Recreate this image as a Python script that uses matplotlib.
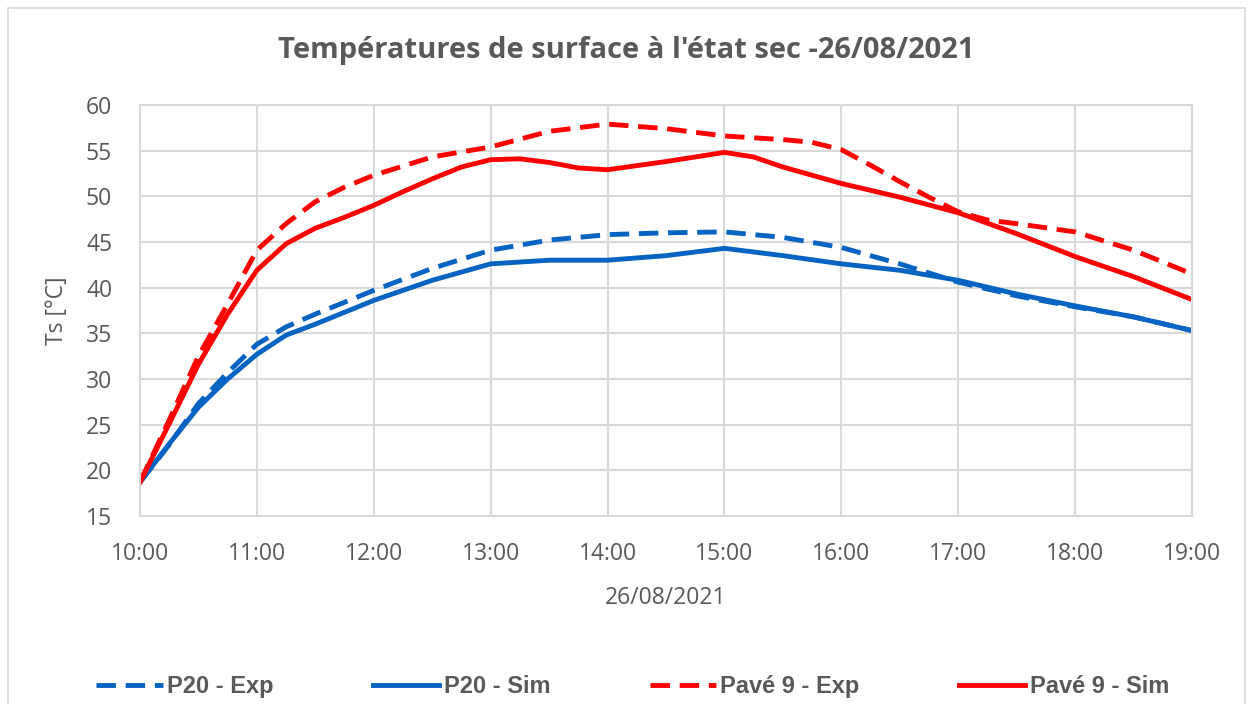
import numpy as np
import matplotlib.pyplot as plt
from matplotlib.patches import Rectangle

plt.rcParams['font.family'] = ['Open Sans', 'DejaVu Sans']

# heures decimales
t_p20_exp = [10, 10.25, 10.5, 10.75, 11, 11.25, 11.5, 12, 12.5, 13, 13.5, 14, 14.5, 15, 15.5, 16, 16.5, 17, 17.5, 18, 18.5, 19]
p20_exp = [18.7, 22.8, 27.3, 30.7, 33.8, 35.7, 37.1, 39.7, 42.1, 44.1, 45.2, 45.8, 46.0, 46.1, 45.5, 44.4, 42.6, 40.6, 39.1, 37.9, 36.8, 35.3]

t_p20_sim = [10, 10.25, 10.5, 10.75, 11, 11.25, 11.5, 12, 12.5, 13, 13.5, 14, 14.5, 15, 15.5, 16, 16.5, 17, 17.5, 18, 18.5, 19]
p20_sim = [18.7, 22.9, 26.9, 30.0, 32.7, 34.8, 36.0, 38.6, 40.8, 42.6, 43.0, 43.0, 43.5, 44.3, 43.5, 42.6, 41.9, 40.8, 39.3, 38.0, 36.8, 35.3]

t_pave_exp = [10, 10.25, 10.5, 10.75, 11, 11.25, 11.5, 11.75, 12, 12.5, 13, 13.5, 14, 14.5, 15, 15.5, 15.75, 16, 16.25, 16.5, 16.75, 17, 17.25, 17.5, 18, 18.5, 19]
pave_exp = [18.7, 25.5, 32.5, 38.2, 44.1, 47.0, 49.4, 51.0, 52.3, 54.3, 55.4, 57.1, 57.9, 57.4, 56.6, 56.2, 55.9, 55.1, 53.4, 51.6, 49.9, 48.3, 47.4, 47.0, 46.1, 44.1, 41.5]

t_pave_sim = [10, 10.25, 10.5, 10.75, 11, 11.25, 11.5, 11.75, 12, 12.25, 12.5, 12.75, 13, 13.25, 13.5, 13.75, 14, 14.5, 15, 15.25, 15.5, 16, 16.5, 17, 17.5, 18, 18.5, 19]
pave_sim = [18.7, 25.1, 31.6, 37.1, 41.9, 44.8, 46.5, 47.7, 49.0, 50.5, 51.9, 53.2, 54.0, 54.1, 53.7, 53.1, 52.9, 53.8, 54.8, 54.3, 53.2, 51.4, 49.9, 48.2, 45.9, 43.4, 41.2, 38.7]

hours = list(range(10, 20))
hour_labels = [f"{h}:00" for h in hours]

blue = '#0563C1'
red = '#FF0000'
grey_txt = '#595959'

fig = plt.figure(figsize=(12.53, 7.04), dpi=100)
ax = fig.add_axes([0.1117, 0.267, 0.8396, 0.584])

ax.plot(t_p20_exp, p20_exp, color=blue, lw=3.5, dashes=(4, 2), label='P20 - Exp')
ax.plot(t_p20_sim, p20_sim, color=blue, lw=3.5, label='P20 - Sim')
ax.plot(t_pave_exp, pave_exp, color=red, lw=3.5, dashes=(4, 2), label='Pavé 9 - Exp')
ax.plot(t_pave_sim, pave_sim, color=red, lw=3.5, label='Pavé 9 - Sim')

ax.set_xlim(10, 19)
ax.set_ylim(15, 60)
ax.set_xticks(hours)
ax.set_xticklabels(hour_labels)
ax.set_yticks(range(15, 61, 5))
ax.grid(True, color='#D9D9D9', lw=1.5)
ax.set_axisbelow(True)
for s in ax.spines.values():
    s.set_color('#D9D9D9')
    s.set_linewidth(1.5)
ax.tick_params(length=0, labelsize=16.5, colors=grey_txt)
ax.tick_params(axis='y', pad=20)
ax.tick_params(axis='x', pad=19)

ax.set_ylabel('Ts [°C]', fontsize=16.5, color=grey_txt, labelpad=12)
ax.set_xlabel('26/08/2021', fontsize=16.5, color=grey_txt, labelpad=14)
fig.text(0.5, 0.928, "Températures de surface à l'état sec -26/08/2021", ha='center', va='center',
         fontsize=21, fontweight='bold', color=grey_txt)

leg = fig.legend(loc='center', bbox_to_anchor=(0.505, 0.025), ncol=4, frameon=False,
                 handlelength=2.8, columnspacing=4.2, handletextpad=0.2,
                 prop={'family': ['Liberation Sans', 'DejaVu Sans'], 'weight': 'bold', 'size': 17})
for txt in leg.get_texts():
    txt.set_color(grey_txt)

# cadre du graphique (bas coupe)
fig.patches.append(Rectangle((0.006, -0.05), 0.988, 1.038, transform=fig.transFigure,
                             fill=False, edgecolor='#D9D9D9', lw=1.2))

fig.savefig('out.png', dpi=100)
